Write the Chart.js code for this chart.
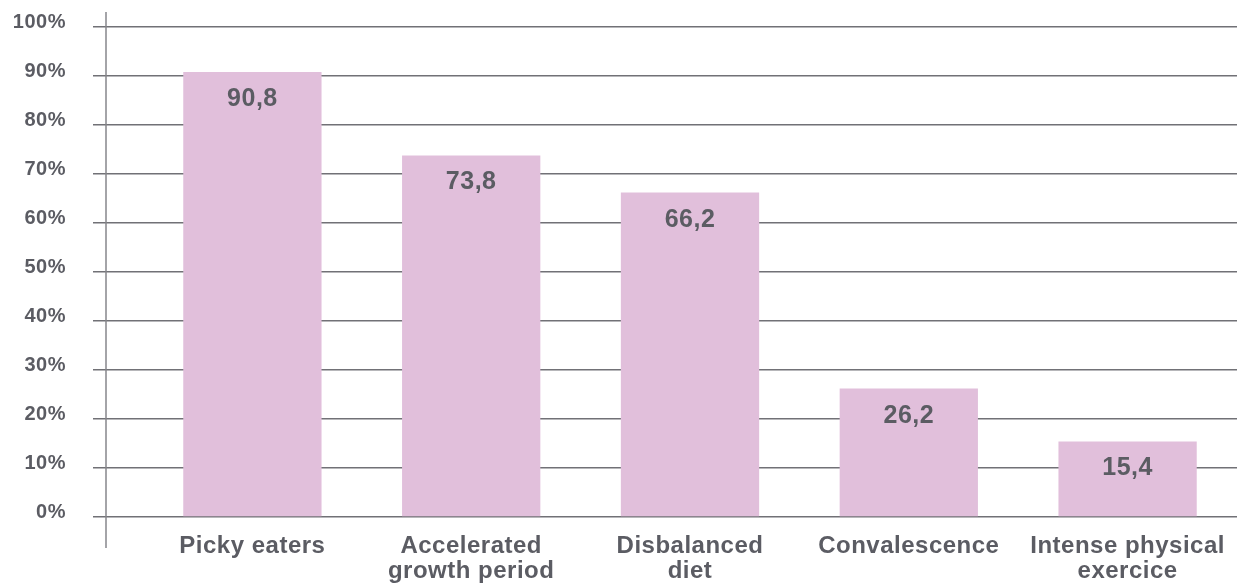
<!DOCTYPE html>
<html>
<head>
<meta charset="utf-8">
<script src="https://cdn.jsdelivr.net/npm/chart.js@4/dist/chart.umd.min.js"></script>
<style>
  html, body { margin: 0; padding: 0; background: #ffffff; }
  #wrap { width: 1237px; height: 583px; }
</style>
</head>
<body>
<div id="wrap"><canvas id="chart" width="1237" height="583"></canvas></div>
<script>
// Motifs de consommation (en %)
const categories = [
    'Picky eaters',
    ['Accelerated', 'growth period'],
    ['Disbalanced', 'diet'],
    'Convalescence',
    ['Intense physical', 'exercice']
];
const values = [90.8, 73.8, 66.2, 26.2, 15.4];
const yTicks = [0, 10, 20, 30, 40, 50, 60, 70, 80, 90, 100];

const TEXT = '#5b5c63';
const GRID = '#717176';
const BAR = '#e1bfdb';
const FONT = '"Liberation Sans", Arial, Helvetica, sans-serif';

function formatValue(v) {
    return v.toFixed(1).replace('.', ',');
}

// Valeurs affichées dans le haut de chaque barre
const valueLabels = {
    id: 'valueLabels',
    afterDatasetsDraw(chart) {
        const ctx = chart.ctx;
        const meta = chart.getDatasetMeta(0);
        ctx.save();
        ctx.font = 'bold 25px ' + FONT;
        ctx.fillStyle = TEXT;
        ctx.textAlign = 'center';
        ctx.textBaseline = 'middle';
        meta.data.forEach((bar, i) => {
            ctx.fillText(formatValue(values[i]), bar.x, bar.y + 27);
        });
        ctx.restore();
    }
};

// Axe vertical décalé à gauche de la zone du graphique
const sideAxis = {
    id: 'sideAxis',
    beforeDraw(chart) {
        chart.ctx.letterSpacing = '0.5px';
    },
    afterDraw(chart) {
        const ctx = chart.ctx;
        const y = chart.scales.y;
        ctx.save();
        ctx.strokeStyle = '#86868b';
        ctx.lineWidth = 1.5;
        ctx.beginPath();
        ctx.moveTo(106, y.getPixelForValue(100) - 15);
        ctx.lineTo(106, y.getPixelForValue(0) + 31);
        ctx.stroke();
        ctx.restore();
    }
};

new Chart(document.getElementById('chart'), {
    type: 'bar',
    data: {
        labels: categories,
        datasets: [{
            data: values,
            backgroundColor: BAR,
            borderWidth: 0,
            categoryPercentage: 1,
            barPercentage: 0.632,
        }]
    },
    options: {
        responsive: false,
        animation: false,
        devicePixelRatio: 1,
        layout: { padding: { top: 27, right: 0, bottom: 0, left: 0 } },
        plugins: {
            legend: { display: false },
            tooltip: { enabled: false },
        },
        scales: {
            x: {
                grid: { display: false, drawTicks: false },
                border: { display: false },
                ticks: {
                    color: TEXT,
                    padding: 17,
                    maxRotation: 0,
                    autoSkip: false,
                    font: { family: FONT, size: 24, weight: 'bold', lineHeight: '25px' },
                },
                afterFit(scale) {
                    scale.height = 66;
                    scale.paddingLeft = 0;
                    scale.paddingRight = 0;
                },
            },
            y: {
                min: 0,
                max: 100,
                afterBuildTicks(scale) {
                    scale.ticks = yTicks.map(v => ({ value: v }));
                },
                grid: {
                    color: GRID,
                    lineWidth: 1.4,
                    tickLength: 50,
                    tickColor: GRID,
                },
                border: { display: false },
                ticks: {
                    color: TEXT,
                    padding: 27,
                    labelOffset: -5,
                    font: { family: FONT, size: 20, weight: 'bold' },
                    callback: v => v + '%',
                },
                afterFit(scale) {
                    scale.width = 143;
                    scale.paddingTop = 0;
                    scale.paddingBottom = 0;
                },
            }
        }
    },
    plugins: [valueLabels, sideAxis]
});
</script>
</body>
</html>
